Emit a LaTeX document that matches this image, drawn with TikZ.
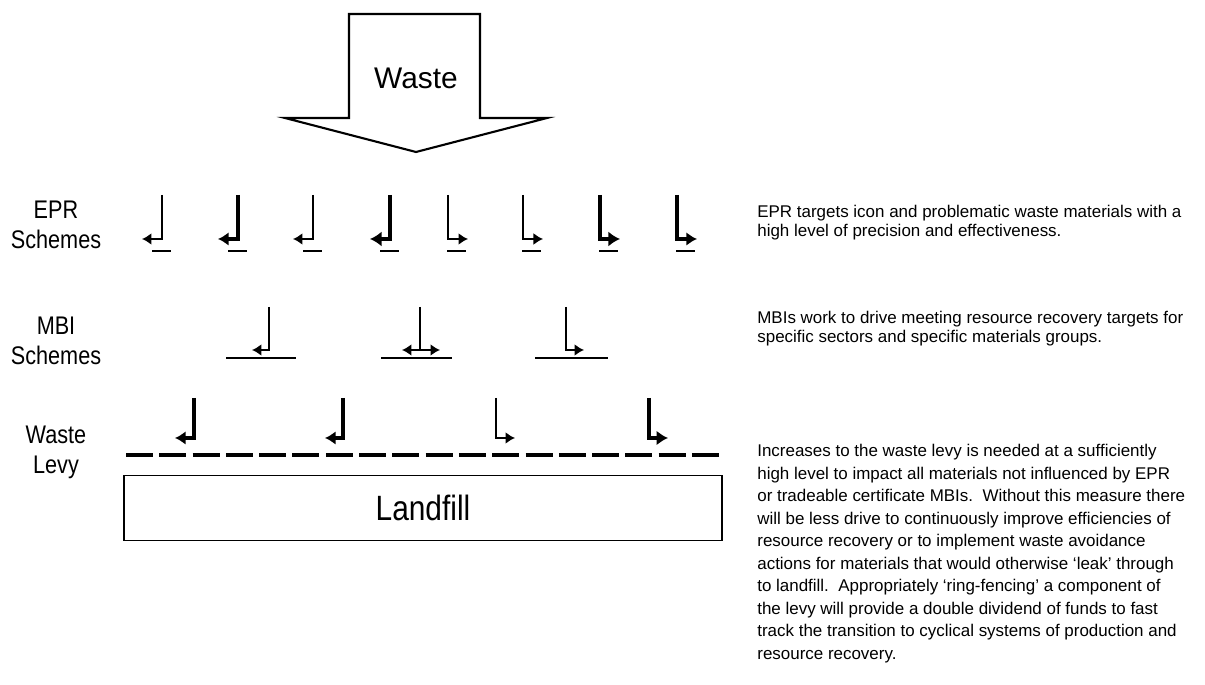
\documentclass[tikz,border=0pt]{standalone}
\usepackage{fontspec}
\setmainfont{Liberation Sans}
\newfontfamily\narrowfont[FakeStretch=0.85]{Liberation Sans}
\usepackage{tikz}
\usetikzlibrary{arrows.meta}

\tikzset{
  icon/.style={line width=#1, line join=miter, -{Latex[length=4.5pt 0.8, width=5.5pt 1.2]}},
  icon/.default=1.1pt,
  underbar/.style={line width=1.6pt},
  rowlabel/.style={align=center, inner sep=0pt, font=\narrowfont\fontsize{14.5}{17}\selectfont},
  note/.style={anchor=north west, align=left, inner sep=0pt, font=\fontsize{9.65}{10.8}\selectfont}
}

\begin{document}
\begin{tikzpicture}[x=0.02cm, y=-0.02cm]
  \useasboundingbox (0,0) rectangle (1205,685);

  % Waste arrow
  \draw[line width=1.2pt] (349,118) -- (349,14) -- (480,14) -- (480,118) -- (547,118) -- (416,152) -- (285,118) -- cycle;
  \node[font=\fontsize{17}{20}\selectfont] (waste) at (416,78) {Waste};

  % Row labels
  \node[rowlabel] (epr) at (56,225) {EPR\\Schemes};
  \node[rowlabel] (mbi) at (56,341) {MBI\\Schemes};
  \node[rowlabel] (levy) at (56,452) {Waste\\Levy};

  % EPR icons
  \foreach \x/\w in {162/1.1pt, 238/2pt, 313/1.1pt, 390/2.6pt} {
    \draw[icon=\w] (\x,195) |- (\x-20,239);
    \draw[underbar] (\x-10,251) -- (\x+9,251);
  }
  \foreach \x/\w in {448/1.1pt, 523/1.3pt, 600/2.6pt, 677/2pt} {
    \draw[icon=\w] (\x,195) |- (\x+20,239);
    \draw[underbar] (\x-1,251) -- (\x+18,251);
  }

  % MBI icons
  \draw[icon] (269,307) |- (252,350);
  \draw[line width=1.1pt] (226,358) -- (296,358);
  \draw[line width=1.1pt] (420,307) -- (420,350);
  \draw[line width=1.1pt, {Latex[length=5.4pt, width=6.8pt]}-{Latex[length=5.4pt, width=6.8pt]}] (402,350) -- (440,350);
  \draw[line width=1.1pt] (381,358) -- (452,358);
  \draw[icon] (566,307) |- (584,350);
  \draw[line width=1.1pt] (535,358) -- (608,358);

  % Waste levy icons
  \draw[icon=2pt] (194,398) |- (175,438);
  \draw[icon=2pt] (343,398) |- (325,438);
  \draw[icon=1.1pt] (496,398) |- (515,438);
  \draw[icon=2.4pt] (649,398) |- (668,438);
  \draw[line width=2.2pt, dash pattern=on 0.54cm off 0.126cm] (126,455) -- (722,455);

  % Landfill
  \node[draw, line width=1pt, minimum width=11.96cm, minimum height=1.3cm, font=\narrowfont\fontsize{20}{24}\selectfont] (landfill) at (423,508) {Landfill};

  % Notes
  \node[note] (eprnote) at (757,205) {EPR targets icon and problematic waste materials with a\\
    high level of precision and effectiveness.};
  \node[note] (mbinote) at (757,311) {MBIs work to drive meeting resource recovery targets for\\
    specific sectors and specific materials groups.};
  \node[note, font=\fontsize{9.65}{12.8}\selectfont] (levynote) at (757,444) {Increases to the waste levy is needed at a sufficiently\\
    high level to impact all materials not influenced by EPR\\
    or tradeable certificate MBIs.\ \ Without this measure there\\
    will be less drive to continuously improve efficiencies of\\
    resource recovery or to implement waste avoidance\\
    actions for materials that would otherwise `leak' through\\
    to landfill.\ \ Appropriately `ring-fencing' a component of\\
    the levy will provide a double dividend of funds to fast\\
    track the transition to cyclical systems of production and\\
    resource recovery.};
\end{tikzpicture}
\end{document}
